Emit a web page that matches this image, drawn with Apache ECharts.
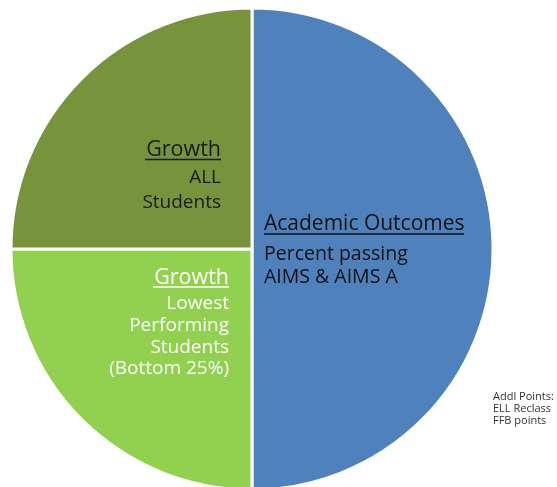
<!DOCTYPE html>
<html>
<head>
<meta charset="utf-8">
<script src="https://cdn.jsdelivr.net/npm/echarts@6/dist/echarts.min.js"></script>
<style>html,body{margin:0;padding:0;background:#fff}#c{width:557px;height:487px}</style>
</head>
<body>
<div id="c"></div>
<script>
const categories = ['Academic Outcomes', 'Growth Lowest Performing Students (Bottom 25%)', 'Growth ALL Students'];
const values = [50, 25, 25];
const colors = ['#4F81BD', '#92D050', '#77933C'];
const notes = ['Addl Points:', 'ELL Reclass', 'FFB points'];

const chart = echarts.init(document.getElementById('c'));
const F = '"Open Sans", sans-serif';
const DY = 1.5;
function txt(x, y, s, size, color, align) {
  return {type: 'text', x: x, y: y + DY, style: {text: s, fontFamily: F, fontSize: size, fill: color, align: align, verticalAlign: 'middle'}, z: 10};
}
function uline(x1, x2, y, color) {
  return {type: 'line', shape: {x1: x1, y1: y, x2: x2, y2: y}, style: {stroke: color, lineWidth: 1.3}, z: 10};
}
const graphics = [
  // Growth ALL
  txt(221, 148, 'Growth', 21.5, '#1a1a1a', 'right'),
  uline(145, 221, 159.5, '#1a1a1a'),
  txt(221, 176, 'ALL', 19, '#1a1a1a', 'right'),
  txt(221, 201, 'Students', 19, '#1a1a1a', 'right'),
  // Academic outcomes
  txt(264, 222.5, 'Academic Outcomes', 21, '#111', 'left'),
  uline(264, 464, 234, '#111'),
  txt(264, 252.5, 'Percent passing', 19.5, '#111', 'left'),
  txt(264, 276, 'AIMS & AIMS A', 19.5, '#111', 'left'),
  // Growth Lowest
  txt(229, 276, 'Growth', 21.5, '#ffffff', 'right'),
  uline(153, 229, 287, '#ffffff'),
  txt(229, 302, 'Lowest', 19, '#ffffff', 'right'),
  txt(229, 324.5, 'Performing', 19, '#ffffff', 'right'),
  txt(229, 346, 'Students', 19, '#ffffff', 'right'),
  txt(229, 367.5, '(Bottom 25%)', 19, '#ffffff', 'right')
];
notes.forEach((n, i) => graphics.push(txt(493, 395 + i * 12, n, 11, '#333', 'left')));

chart.setOption({
  animation: false,
  series: [{
    type: 'pie',
    center: [252, 249],
    radius: [0, 241],
    startAngle: 90,
    clockwise: true,
    label: {show: false},
    labelLine: {show: false},
    emphasis: {disabled: true},
    itemStyle: {borderColor: '#ffffff', borderWidth: 3},
    data: categories.map((c, i) => ({name: c, value: values[i], itemStyle: {color: colors[i]}}))
  }],
  graphic: graphics
});
</script>
</body>
</html>
